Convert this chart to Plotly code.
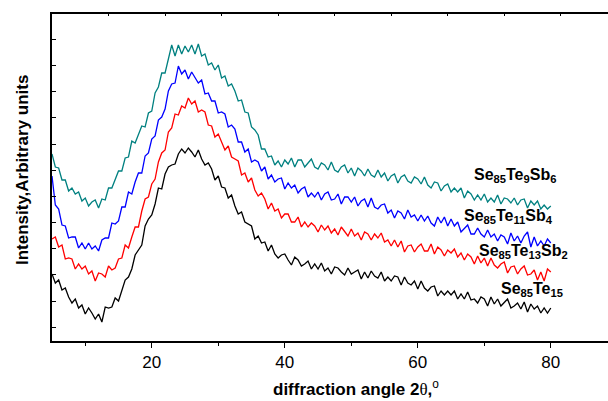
import plotly.graph_objects as go

# 2-theta grid, 5..80 degrees in 0.5 degree steps
two_theta = [5 + 0.5 * i for i in range(151)]

# Intensities (arbitrary units), one list per composition
se85te15 = [
    67, 58, 61, 51, 53, 44, 38, 42, 33, 36,
    27, 33, 28, 22, 27, 19, 34, 33, 34, 43,
    40, 50, 61, 64, 72, 86, 91, 96, 115, 122,
    126, 137, 153, 152, 167, 174, 176, 177, 187, 192,
    188, 193, 189, 184, 191, 182, 176, 178, 172, 161,
    165, 154, 153, 143, 146, 135, 127, 129, 119, 117,
    115, 102, 105, 98, 99, 90, 96, 87, 83, 86,
    87, 81, 76, 84, 81, 75, 77, 80, 72, 77,
    72, 78, 70, 73, 67, 74, 73, 69, 66, 73,
    67, 69, 71, 62, 69, 63, 70, 65, 63, 69,
    60, 64, 60, 65, 64, 56, 64, 58, 56, 60,
    52, 60, 53, 50, 54, 55, 45, 50, 46, 50,
    46, 50, 42, 47, 42, 49, 41, 42, 38, 44,
    42, 35, 44, 37, 42, 35, 39, 42, 33, 35,
    38, 32, 39, 29, 37, 32, 35, 28, 33, 28, 33,
]

se85te13sb2 = [
    102, 104, 94, 96, 82, 83, 82, 72, 77, 72,
    75, 67, 70, 60, 68, 67, 64, 75, 71, 73,
    82, 83, 96, 93, 104, 114, 114, 130, 142, 144,
    157, 162, 179, 188, 191, 209, 213, 227, 226, 235,
    233, 243, 237, 240, 229, 231, 229, 216, 215, 204,
    207, 198, 191, 195, 184, 182, 180, 166, 168, 159,
    163, 151, 145, 148, 142, 132, 138, 130, 132, 123,
    127, 127, 119, 119, 124, 114, 119, 114, 118, 115,
    109, 116, 111, 115, 108, 112, 106, 114, 109, 105,
    112, 105, 108, 101, 109, 107, 101, 107, 103, 108,
    99, 101, 95, 101, 94, 100, 89, 95, 96, 89,
    94, 97, 90, 90, 97, 87, 94, 91, 85, 91,
    88, 92, 84, 88, 81, 87, 84, 77, 85, 78,
    83, 75, 83, 76, 73, 77, 79, 68, 74, 75,
    67, 72, 75, 66, 67, 71, 61, 69, 60, 72, 69,
]

se85te11sb4 = [
    165, 136, 132, 116, 115, 103, 104, 104, 93, 98,
    92, 98, 92, 95, 90, 101, 103, 103, 118, 117,
    120, 134, 134, 149, 147, 159, 168, 168, 185, 188,
    202, 205, 221, 224, 232, 250, 257, 258, 275, 267,
    271, 262, 269, 264, 258, 261, 247, 248, 240, 240,
    228, 229, 227, 214, 216, 212, 199, 199, 189, 192,
    179, 181, 179, 170, 174, 162, 166, 159, 162, 163,
    152, 158, 153, 156, 148, 152, 154, 144, 148, 144,
    149, 141, 147, 149, 141, 142, 147, 137, 144, 144,
    139, 144, 135, 140, 142, 134, 143, 134, 132, 136,
    137, 128, 131, 123, 130, 128, 122, 131, 124, 126,
    120, 126, 120, 125, 118, 115, 124, 118, 124, 115,
    122, 115, 119, 109, 113, 116, 107, 107, 113, 107,
    104, 111, 104, 107, 100, 106, 104, 97, 108, 100,
    105, 98, 105, 109, 94, 104, 95, 100, 95, 102, 98,
]

se85te9sb6 = [
    187, 174, 173, 161, 161, 150, 153, 147, 149, 140,
    143, 135, 139, 141, 133, 142, 141, 153, 153, 162,
    170, 170, 183, 184, 200, 198, 207, 215, 214, 228,
    230, 248, 254, 268, 268, 282, 296, 285, 296, 287,
    295, 289, 296, 287, 297, 285, 287, 276, 278, 271,
    276, 263, 265, 255, 257, 250, 240, 241, 229, 228,
    214, 211, 206, 192, 192, 184, 185, 176, 180, 174,
    181, 177, 183, 174, 181, 181, 174, 178, 182, 174,
    172, 178, 176, 171, 179, 171, 169, 174, 176, 168,
    173, 165, 173, 170, 165, 172, 166, 164, 171, 164,
    168, 160, 165, 167, 158, 164, 166, 160, 158, 164,
    162, 157, 164, 156, 153, 159, 158, 150, 155, 157,
    149, 153, 149, 153, 143, 150, 147, 141, 146, 141,
    147, 139, 143, 139, 146, 137, 143, 142, 138, 143,
    136, 141, 142, 133, 140, 136, 140, 132, 136, 132, 135,
]

series = [
    (se85te15, "#000000", "Se<sub>85</sub>Te<sub>15</sub>", 77.2, 52),
    (se85te13sb2, "#ff0000", "Se<sub>85</sub>Te<sub>13</sub>Sb<sub>2</sub>", 75.9, 90),
    (se85te11sb4, "#0000ff", "Se<sub>85</sub>Te<sub>11</sub>Sb<sub>4</sub>", 73.7, 125),
    (se85te9sb6, "#008080", "Se<sub>85</sub>Te<sub>9</sub>Sb<sub>6</sub>", 74.6, 166),
]

FONT = "Liberation Sans, Arial, sans-serif"
X_RANGE = [5, 88.6]

fig = go.Figure()
for values, color, _, _, _ in series:
    fig.add_trace(go.Scatter(
        x=two_theta, y=values, mode="lines",
        line=dict(color=color, width=1.3),
        showlegend=False, hoverinfo="skip",
    ))

# empty trace so the top frame axis is drawn
fig.add_trace(go.Scatter(x=[], y=[], xaxis="x2", showlegend=False, hoverinfo="skip"))

annotations = []
for _, _, label, lx, ly in series:
    annotations.append(dict(
        x=lx, y=ly, xref="x", yref="y", text="<b>" + label + "</b>",
        showarrow=False, xanchor="center", yanchor="middle",
        font=dict(family=FONT, size=16, color="#000000"),
    ))

annotations.append(dict(
    x=0.547, y=-0.143, xref="paper", yref="paper",
    text="<b>diffraction angle 2</b><span style='font-family:Liberation Serif, Times New Roman, serif'>θ</span><b>,</b><sup>o</sup>",
    showarrow=False, xanchor="center", yanchor="middle",
    font=dict(family=FONT, size=17, color="#000000"),
))
annotations.append(dict(
    x=-0.052, y=0.523, xref="paper", yref="paper",
    text="<b>Intensity,Arbitrary units</b>", textangle=-90,
    showarrow=False, xanchor="center", yanchor="middle",
    font=dict(family=FONT, size=17, color="#000000"),
))

fig.update_layout(
    width=608, height=401,
    margin=dict(l=52, r=0, t=14, b=60),
    paper_bgcolor="white", plot_bgcolor="white",
    font=dict(family=FONT, size=16, color="#000000"),
    annotations=annotations,
    xaxis=dict(
        range=X_RANGE, tick0=0, dtick=20,
        ticks="outside", ticklen=5, tickwidth=1, tickcolor="#000000",
        minor=dict(tick0=0, dtick=10, ticks="outside", ticklen=3, tickwidth=1, tickcolor="#000000"),
        showline=True, linecolor="#000000", linewidth=1.5,
        showgrid=False, zeroline=False,
        tickfont=dict(family=FONT, size=17),
    ),
    xaxis2=dict(
        range=X_RANGE, overlaying="x", side="top", anchor="y",
        tick0=5, dtick=8.5, ticks="inside", ticklen=2, tickcolor="#000000",
        showline=True, linecolor="#000000", linewidth=1.5,
        showticklabels=False, showgrid=False, zeroline=False,
    ),
    yaxis=dict(
        range=[0, 327], tick0=13.7, dtick=26.18,
        ticks="inside", ticklen=4, tickwidth=1, tickcolor="#000000",
        showticklabels=False,
        showline=True, linecolor="#000000", linewidth=1.5,
        showgrid=False, zeroline=False,
    ),
)

fig.write_html("out.html")
